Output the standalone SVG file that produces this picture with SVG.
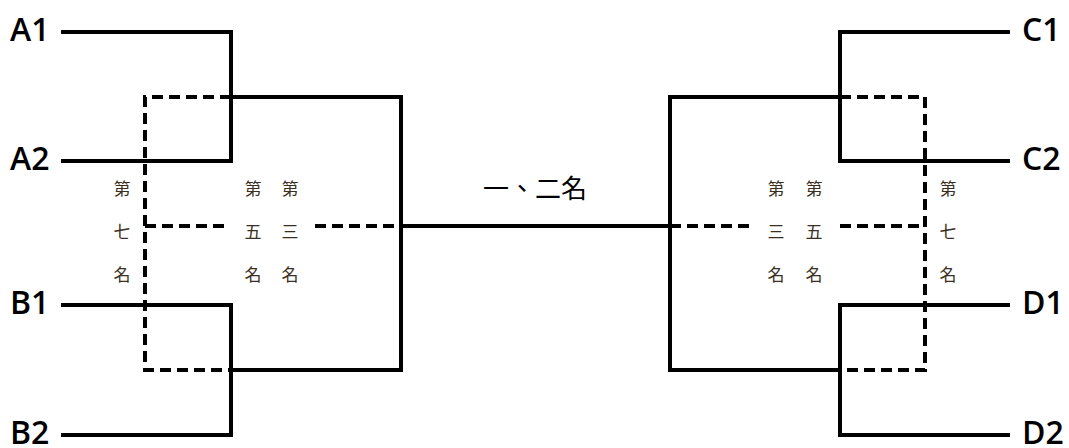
<svg xmlns="http://www.w3.org/2000/svg" width="1069" height="448" viewBox="0 0 1069 448">
<style>
.s{fill:none;stroke:#000;stroke-width:4;stroke-linecap:square}
.d{fill:none;stroke:#000;stroke-width:4;stroke-dasharray:11 6}
.lbl{font-family:"Open Sans","Liberation Sans",sans-serif;font-weight:600;font-size:32px;fill:#000}
.rk{font-family:"Noto Sans CJK TC","Noto Sans CJK SC",sans-serif;font-size:17px;fill:#3a2f22;text-anchor:middle}
.big{font-family:"Noto Sans CJK TC","Noto Sans CJK SC",sans-serif;font-size:26px;fill:#000;text-anchor:middle}
</style>
<rect width="1069" height="448" fill="#fff"/>
<g id="connectors">
<path class="s" d="M63 32H231V161H63"/>
<path class="s" d="M63 305H231V435H63"/>
<path class="s" d="M231 97H401V370H231"/>
<path class="s" d="M1008 32H840V161H1008"/>
<path class="s" d="M1008 305H840V435H1008"/>
<path class="s" d="M840 97H670V370H840"/>
<path class="s" d="M401 226H670"/>
<path class="d" d="M231 97H145V370H231"/>
<path class="d" d="M145 226H230M315 226H401"/>
<path class="d" d="M840 97H925V370H840"/>
<path class="d" d="M670 226H754M840 226H925"/>
</g>
<g id="A1"><text class="lbl" x="10" y="41">A1</text></g>
<g id="A2"><text class="lbl" x="10" y="170">A2</text></g>
<g id="B1"><text class="lbl" x="10" y="314">B1</text></g>
<g id="B2"><text class="lbl" x="10" y="444">B2</text></g>
<g id="C1"><text class="lbl" x="1022" y="41">C1</text></g>
<g id="C2"><text class="lbl" x="1022" y="170">C2</text></g>
<g id="D1"><text class="lbl" x="1022" y="314">D1</text></g>
<g id="D2"><text class="lbl" x="1022" y="444">D2</text></g>
<g id="final"><text class="big" x="535" y="198">一、二名</text></g>
<g id="left7"><text class="rk" x="122" y="195">第</text><text class="rk" x="122" y="238">七</text><text class="rk" x="122" y="281">名</text></g>
<g id="left5"><text class="rk" x="253" y="195">第</text><text class="rk" x="253" y="238">五</text><text class="rk" x="253" y="281">名</text></g>
<g id="left3"><text class="rk" x="290" y="195">第</text><text class="rk" x="290" y="238">三</text><text class="rk" x="290" y="281">名</text></g>
<g id="right3"><text class="rk" x="776" y="195">第</text><text class="rk" x="776" y="238">三</text><text class="rk" x="776" y="281">名</text></g>
<g id="right5"><text class="rk" x="814" y="195">第</text><text class="rk" x="814" y="238">五</text><text class="rk" x="814" y="281">名</text></g>
<g id="right7"><text class="rk" x="948" y="195">第</text><text class="rk" x="948" y="238">七</text><text class="rk" x="948" y="281">名</text></g>
</svg>
